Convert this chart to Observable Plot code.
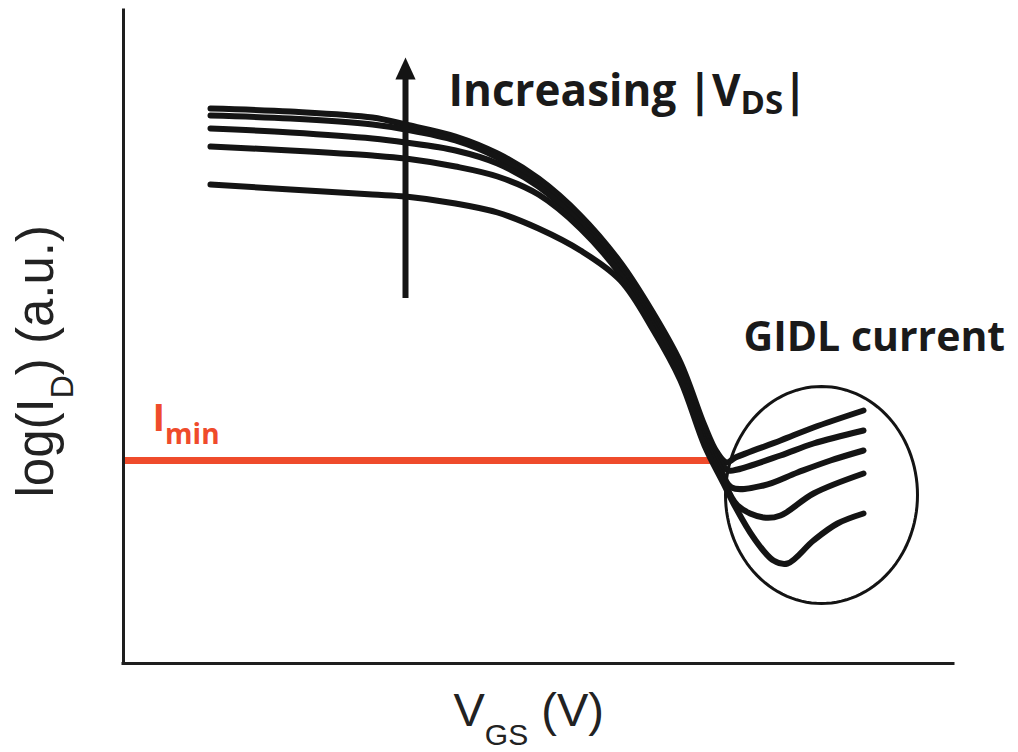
<!DOCTYPE html>
<html>
<head>
<meta charset="utf-8">
<script src="https://cdn.jsdelivr.net/npm/d3@7"></script>
<script src="https://cdn.jsdelivr.net/npm/@observablehq/plot@0.6"></script>
<style>
  html, body { margin: 0; padding: 0; background: #fff; }
  #chart svg { display: block; }
</style>
</head>
<body>
<div id="chart"></div>
<script>
// Transfer curves log(I_D) vs V_GS (arbitrary units) for five |V_DS| values.
// Shared gate-voltage sweep for the on-state and subthreshold part.
const vgs = [0.87, 1.67, 2.49, 2.82, 3.32, 3.74, 4.15, 4.57, 4.97, 5.30, 5.57, 5.81];

// log(I_D) along that sweep, highest |V_DS| first.
const logId1 = [5.55, 5.52, 5.46, 5.39, 5.27, 5.10, 4.85, 4.48, 4.01, 3.50, 3.01, 2.38];
const logId2 = [5.48, 5.45, 5.39, 5.34, 5.23, 5.06, 4.81, 4.44, 3.97, 3.46, 2.97, 2.33];
const logId3 = [5.35, 5.31, 5.25, 5.21, 5.13, 5.00, 4.77, 4.40, 3.93, 3.42, 2.93, 2.28];
const logId4 = [5.17, 5.13, 5.08, 5.05, 4.97, 4.87, 4.69, 4.35, 3.89, 3.38, 2.88, 2.23];
const logId5 = [4.79, 4.74, 4.69, 4.67, 4.60, 4.51, 4.35, 4.13, 3.83, 3.33, 2.83, 2.18];

// GIDL branch beyond the current minimum, one pair of arrays per curve.
const gidlVgs1 = [5.93, 6.03, 6.12, 6.57, 6.90, 7.40];
const gidlId1  = [2.12, 2.01, 2.06, 2.23, 2.36, 2.53];
const gidlVgs2 = [5.94, 6.05, 6.14, 6.57, 6.90, 7.40];
const gidlId2  = [2.05, 1.93, 1.94, 2.08, 2.20, 2.33];
const gidlVgs3 = [5.96, 6.08, 6.40, 6.74, 7.07, 7.40];
const gidlId3  = [1.97, 1.76, 1.78, 1.91, 2.03, 2.13];
const gidlVgs4 = [5.98, 6.14, 6.40, 6.57, 6.90, 7.40];
const gidlId4  = [1.88, 1.58, 1.46, 1.48, 1.70, 1.90];
const gidlVgs5 = [6.00, 6.10, 6.30, 6.50, 6.64, 6.90, 7.14, 7.40];
const gidlId5  = [1.80, 1.60, 1.26, 1.03, 1.00, 1.23, 1.40, 1.50];

const vdsLabels = ["VDS5", "VDS4", "VDS3", "VDS2", "VDS1"];

// Minimum-current level and where it ends on the V_GS axis.
const iMin = 2.03;
const iMinEnd = 5.87;

// Circled GIDL region: centre and half-axes.
const gidlCenter = [6.98, 1.685];
const gidlRadii = [0.96, 1.085];

// Arrow pointing toward increasing |V_DS|.
const arrowVgs = 2.82;
const arrowFrom = 3.65;
const arrowTo = 5.95;

// Long table for the line mark.
const mains = [logId1, logId2, logId3, logId4, logId5];
const tailsX = [gidlVgs1, gidlVgs2, gidlVgs3, gidlVgs4, gidlVgs5];
const tailsY = [gidlId1, gidlId2, gidlId3, gidlId4, gidlId5];
const curves = [];
mains.forEach((ids, k) => {
  vgs.forEach((v, i) => curves.push({vds: vdsLabels[k], vgs: v, logId: ids[i]}));
  tailsX[k].forEach((v, i) => curves.push({vds: vdsLabels[k], vgs: v, logId: tailsY[k][i]}));
});

// Outline of the circled region.
const ring = d3.range(0, 360, 3).map(a => ({
  x: gidlCenter[0] + gidlRadii[0] * Math.cos(a * Math.PI / 180),
  y: gidlCenter[1] + gidlRadii[1] * Math.sin(a * Math.PI / 180)
}));

// Filled arrowhead symbol, tip up.
const arrowHead = {
  draw(context, size) {
    const r = Math.sqrt(size / Math.PI);
    context.moveTo(0, -1.2 * r);
    context.lineTo(1.1 * r, 1.2 * r);
    context.lineTo(-1.1 * r, 1.2 * r);
    context.closePath();
  }
};

const ink = "#141414";
const red = "#ef4b2b";
const bold = {fontFamily: "'Open Sans', sans-serif", fontWeight: 700};
const plain = {fontFamily: "'Liberation Sans', Arial, sans-serif", fontWeight: 400};

const chart = Plot.plot({
  width: 1018,
  height: 752,
  marginLeft: 123,
  marginRight: 65,
  marginTop: 10,
  marginBottom: 89,
  x: {domain: [0, 8.3], axis: null},
  y: {domain: [0, 6.53], axis: null},
  style: {background: "#fff", overflow: "visible"},
  marks: [
    Plot.ruleY([iMin], {x1: 0, x2: iMinEnd, stroke: red, strokeWidth: 7}),
    Plot.line(ring, {x: "x", y: "y", curve: "linear-closed", stroke: ink, strokeWidth: 3}),
    Plot.line(curves, {
      x: "vgs", y: "logId", z: "vds", curve: "catmull-rom",
      stroke: ink, strokeWidth: 6, strokeLinejoin: "round"
    }),
    Plot.ruleX([arrowVgs], {y1: arrowFrom, y2: arrowTo - 0.05, stroke: ink, strokeWidth: 6}),
    Plot.dot([arrowVgs], {x: d => d, y: arrowTo, symbol: arrowHead, r: 9.2, fill: ink, stroke: "none"}),
    Plot.ruleY([0], {stroke: "#1e1e1e", strokeWidth: 3, strokeLinecap: "square"}),
    Plot.ruleX([0], {stroke: "#1e1e1e", strokeWidth: 3, strokeLinecap: "square"}),
    Plot.text(["Increasing |V_{DS}|"], {
      x: 3.25, y: 5.58, text: d => d, textAnchor: "start", lineAnchor: "bottom",
      fontSize: 44, fill: "#1a1a1a", ...bold
    }),
    Plot.text(["GIDL current"], {
      x: 6.2, y: 3.13, text: d => d, textAnchor: "start", lineAnchor: "bottom",
      fontSize: 41, fill: "#1a1a1a", ...bold
    }),
    Plot.text(["I_{min}"], {
      x: 0.29, y: 2.33, text: d => d, textAnchor: "start", lineAnchor: "bottom",
      fontSize: 38, fill: red, ...bold
    }),
    Plot.text(["V_{GS} (V)"], {
      x: 3.30, y: -0.62, text: d => d, textAnchor: "start", lineAnchor: "bottom",
      fontSize: 47, fill: "#222", ...plain
    }),
    Plot.text(["log(I_{D}) (a.u.)"], {
      x: -0.71, y: 1.66, text: d => d, rotate: -90, textAnchor: "start", lineAnchor: "bottom",
      fontSize: 51, fill: "#222", ...plain
    })
  ]
});

// Turn "_{...}" into a lowered, smaller tspan.
const subStyle = {
  "Increasing |V_{DS}|": {size: 33, dy: 8},
  "I_{min}": {size: 28, dy: 13},
  "V_{GS} (V)": {size: 30, dy: 19},
  "log(I_{D}) (a.u.)": {size: 32, dy: 20}
};
d3.select(chart).selectAll("text").each(function () {
  const raw = this.textContent;
  const m = raw.match(/^(.*?)_\{(.*?)\}(.*)$/);
  if (!m) return;
  const s = subStyle[raw] || {size: 24, dy: 10};
  this.textContent = "";
  const t = d3.select(this);
  t.append("tspan").text(m[1]);
  t.append("tspan").attr("font-size", s.size).attr("dy", s.dy).text(m[2]);
  if (m[3]) t.append("tspan").attr("dy", -s.dy).text(m[3]);
});

document.getElementById("chart").append(chart);
</script>
</body>
</html>
